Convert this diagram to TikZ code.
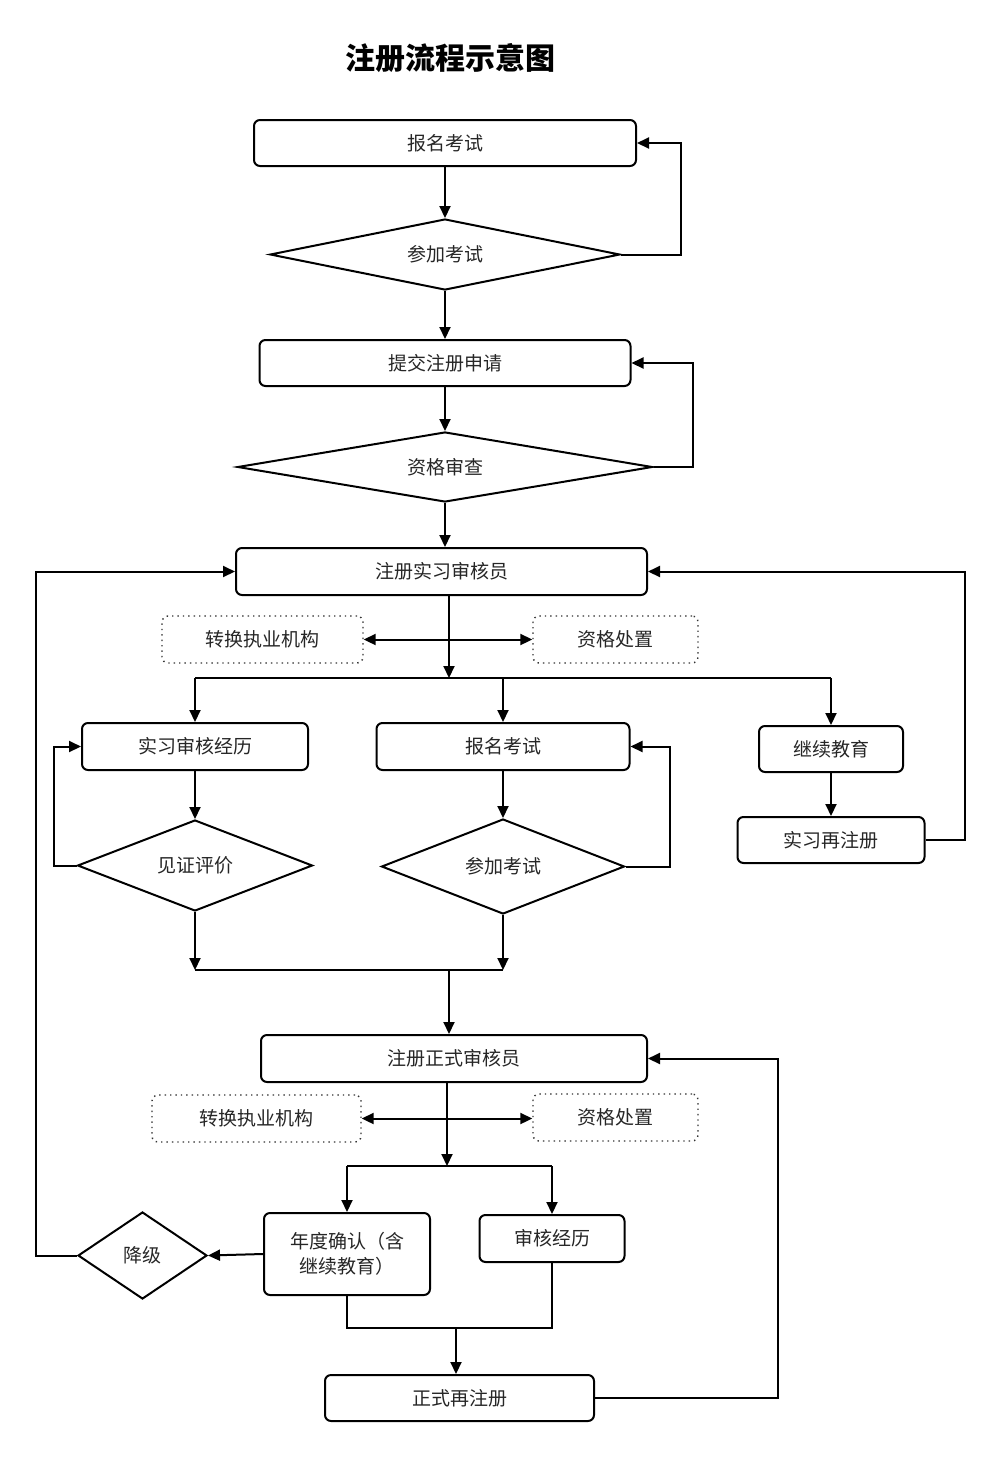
\documentclass[tikz,border=0pt]{standalone}
\usepackage{fontspec}
\setmainfont{Noto Sans CJK SC}
\usetikzlibrary{arrows.meta,shapes.geometric}

\begin{document}
\begin{tikzpicture}[x=0.5pt,y=-0.5pt,
  every node/.style={text=black!85,font=\fontsize{9.5}{12.5}\selectfont},
  box/.style={draw=black,line width=1pt,rounded corners=3pt,inner sep=0pt},
  optbox/.style={draw=black!80,line width=0.7pt,dotted,rounded corners=3pt,inner sep=0pt},
  decision/.style={draw=black,diamond,shape aspect=2.5,line width=1pt,inner sep=0pt},
  arr/.style={line width=1pt,-{Triangle[length=6pt,width=5.5pt]}},
  darr/.style={line width=1pt,{Triangle[length=6pt,width=5.5pt]}-{Triangle[length=6pt,width=5.5pt]}},
  line/.style={line width=1pt}]
\useasboundingbox (0,0) rectangle (1000,1463);
\node[font=\fontsize{15}{18}\bfseries,text=black] (title) at (450,58) {注册流程示意图};

\node[box,minimum width=191pt,minimum height=23pt] (exam) at (445,143) {报名考试};
\node[decision,minimum width=175pt,minimum height=35.5pt] (take) at (445,254.5) {参加考试};
\node[box,minimum width=185.5pt,minimum height=23pt] (apply) at (445,363) {提交注册申请};
\node[decision,minimum width=207.5pt,minimum height=35pt] (check) at (445,467) {资格审查};
\node[box,minimum width=205.5pt,minimum height=23.5pt] (intern) at (441.5,571.5) {注册实习审核员};
\node[optbox,minimum width=100.5pt,minimum height=23.5pt] (transA) at (262.5,639.5) {转换执业机构};
\node[optbox,minimum width=82.5pt,minimum height=23.5pt] (dispA) at (615.5,639.5) {资格处置};

\node[box,minimum width=113pt,minimum height=23.5pt] (iexp) at (195,746.5) {实习审核经历};
\node[decision,minimum width=117.5pt,minimum height=45.5pt] (witness) at (195,865.5) {见证评价};
\node[box,minimum width=126.5pt,minimum height=23.5pt] (exam2) at (503,746.5) {报名考试};
\node[decision,minimum width=121.5pt,minimum height=47.5pt] (take2) at (503,866.5) {参加考试};
\node[box,minimum width=72pt,minimum height=23pt] (cont) at (831,749) {继续教育};
\node[box,minimum width=93.5pt,minimum height=23pt] (rereg) at (831,840) {实习再注册};

\node[box,minimum width=193pt,minimum height=23.5pt] (formal) at (454,1058.5) {注册正式审核员};
\node[optbox,minimum width=104.5pt,minimum height=23.5pt] (transB) at (256.5,1118.5) {转换执业机构};
\node[optbox,minimum width=82.5pt,minimum height=23.5pt] (dispB) at (615.5,1117.5) {资格处置};
\node[box,minimum width=83pt,minimum height=41pt,align=center] (annual) at (347,1254) {年度确认（含\\继续教育）};
\node[box,minimum width=72.5pt,minimum height=23.5pt] (fexp) at (552,1238.5) {审核经历};
\node[decision,minimum width=64.5pt,minimum height=43.5pt] (demote) at (142.5,1255.5) {降级};
\node[box,minimum width=134.5pt,minimum height=23pt] (freg) at (459.5,1398) {正式再注册};

\coordinate (br1) at (449,678);
\coordinate (br1L) at (195,678);
\coordinate (br1M) at (503,678);
\coordinate (br1R) at (831,678);
\coordinate (jA) at (195,970);
\coordinate (jB) at (503,970);
\coordinate (jM) at (449,970);
\coordinate (br2) at (447,1166);
\coordinate (br2L) at (347,1166);
\coordinate (br2R) at (552,1166);
\coordinate (jC) at (347,1328);
\coordinate (jD) at (552,1328);
\coordinate (jN) at (456,1328);

\draw[arr] (exam) -- (take);
\draw[arr] (take.east) -- ++(60,0) |- (exam.east);
\draw[arr] (take) -- (apply);
\draw[arr] (apply) -- (check);
\draw[arr] (check.east) -- ++(39,0) |- (apply.east);
\draw[arr] (check.south) -- (check.south |- intern.north);
\draw[darr] (transA.east) -- (dispA.west);
\draw[arr] (intern.south -| br1) -- (br1);
\draw[line] (br1L) -- (br1R);
\draw[arr] (br1L) -- (iexp.north);
\draw[arr] (br1M) -- (exam2.north);
\draw[arr] (br1R) -- (cont.north);
\draw[arr] (iexp) -- (witness);
\draw[arr] (witness.west) -- ++(-23,0) |- (iexp.west);
\draw[arr] (exam2) -- (take2);
\draw[arr] (take2.east) -- ++(44,0) |- (exam2.east);
\draw[arr] (cont) -- (rereg);
\draw[arr] (rereg.east) -- ++(39,0) |- (intern.east);
\draw[arr] (witness.south) -- (jA);
\draw[arr] (take2.south) -- (jB);
\draw[line] (jA) -- (jB);
\draw[arr] (jM) -- (jM |- formal.north);

\draw[darr] (transB.east) -- (dispB.west |- transB.east);
\draw[arr] (formal.south -| br2) -- (br2);
\draw[line] (br2L) -- (br2R);
\draw[arr] (br2L) -- (annual.north);
\draw[arr] (br2R) -- (fexp.north);
\draw[arr] (annual.west) -- (demote.east);
\draw[arr] (demote.west) -- ++(-41,0) |- (intern.west);
\draw[line] (annual.south) -- (jC) -- (jD) -- (fexp.south);
\draw[arr] (jN) -- (jN |- freg.north);
\draw[arr] (freg.east) -- ++(183,0) |- (formal.east);
\end{tikzpicture}
\end{document}
